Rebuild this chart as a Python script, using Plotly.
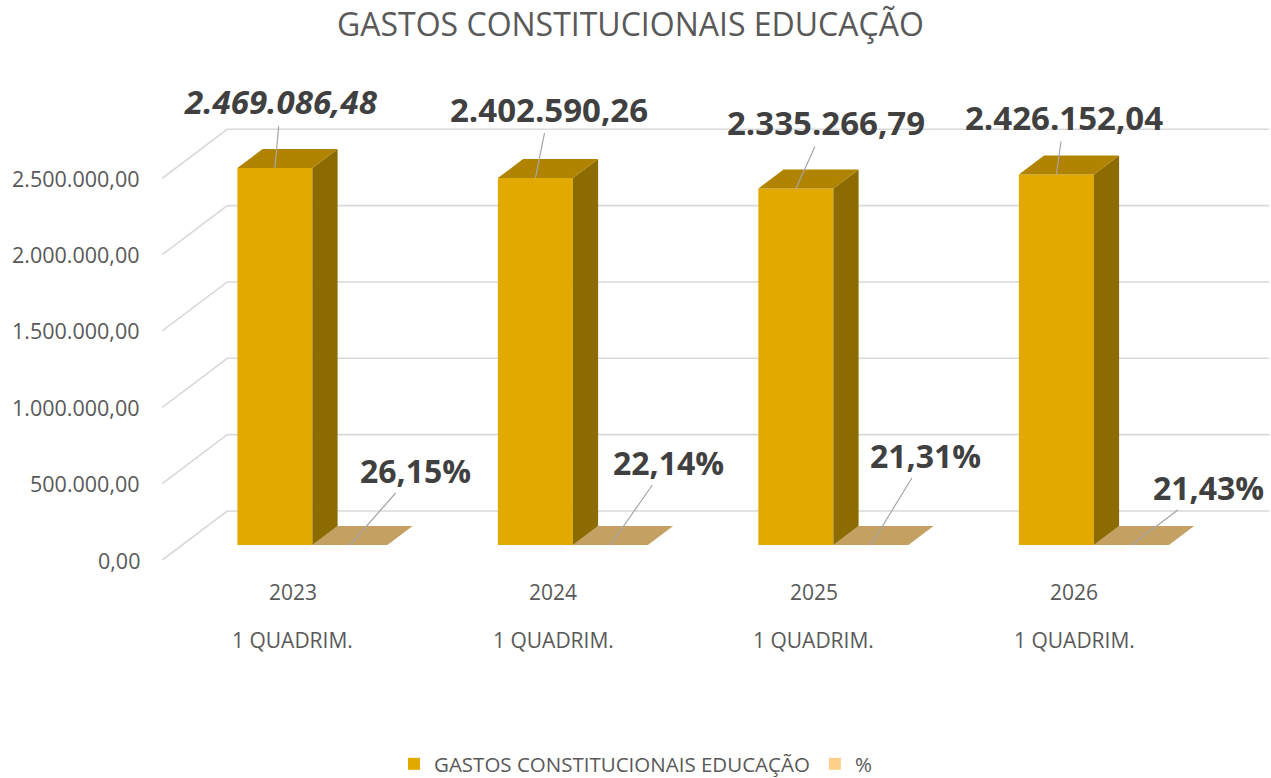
import plotly.graph_objects as go

# ---------------- data ----------------
years = ["2023", "2024", "2025", "2026"]
periods = ["1 QUADRIM.", "1 QUADRIM.", "1 QUADRIM.", "1 QUADRIM."]
gastos = [2469086.48, 2402590.26, 2335266.79, 2426152.04]
percent = [26.15, 22.14, 21.31, 21.43]
tick_values = [0, 500000, 1000000, 1500000, 2000000, 2500000]
series_names = ["GASTOS CONSTITUCIONAIS EDUCAÇÃO", "%"]
title_text = "GASTOS CONSTITUCIONAIS EDUCAÇÃO"

# ---------------- style ----------------
W, H = 1271, 778
PX_PER_CAT = 260.5          # px per category
PX_PER_UNIT = 152.7e-6      # px per currency unit
X0_PX, Y0_PX = 292.5, 560.0  # screen position of (category 0, value 0) at the front of the floor
WALL_DX, WALL_DY = 65.0, 49.0   # perspective depth offset of the whole wall (px)
DU = WALL_DX / PX_PER_CAT
DV = WALL_DY / PX_PER_UNIT
D_FRONT, D_BACK = 15 / 49, 34 / 49   # bar depth range (fraction of wall depth)
BAR_W = 0.288
WALL_L, WALL_R = -0.5, 3.5

C_FRONT = "#E2AA00"
C_SIDE = "#8C6B00"
C_TOP = "#B08400"
C_PCT_TOP = "#C4A062"
C_PCT_LEG = "#FFD08A"
C_GRID = "#D9D9D9"
C_LABEL = "#404040"
C_AXIS = "#595959"
FONT = "Open Sans"

x_range = [-X0_PX / PX_PER_CAT, (W - X0_PX) / PX_PER_CAT]
y_range = [-(H - Y0_PX) / PX_PER_UNIT, Y0_PX / PX_PER_UNIT]


def proj(u, d, v):
    return u + d * DU, v + d * DV


def fmt_br(v):
    s = f"{v:,.2f}"
    return s.replace(",", "X").replace(".", ",").replace("X", ".")


def add_poly(xs, ys, pts):
    for (u, d, v) in pts:
        px, py = proj(u, d, v)
        xs.append(px)
        ys.append(py)
    xs.append(None)
    ys.append(None)


fig = go.Figure()

# gridlines (left wall + back wall)
gx, gy = [], []
for t in tick_values:
    for (u, d) in [(WALL_L, 0), (WALL_L, 1), (WALL_R, 1)]:
        px, py = proj(u, d, t)
        gx.append(px)
        gy.append(py)
    gx.append(None)
    gy.append(None)
fig.add_trace(go.Scatter(x=gx, y=gy, mode="lines", line=dict(color=C_GRID, width=1.6),
                         hoverinfo="skip", showlegend=False))

# faces
faces = {"pct_top": ([], []), "front": ([], []), "side": ([], []), "top": ([], [])}
for i, (g, p) in enumerate(zip(gastos, percent)):
    # % series (flat bar, right slot)
    u0, u1 = i, i + BAR_W
    add_poly(*faces["pct_top"], [(u0, D_FRONT, p), (u1, D_FRONT, p), (u1, D_BACK, p), (u0, D_BACK, p)])
    # gastos series (left slot)
    u0, u1 = i - BAR_W, i
    add_poly(*faces["front"], [(u0, D_FRONT, 0), (u1, D_FRONT, 0), (u1, D_FRONT, g), (u0, D_FRONT, g)])
    add_poly(*faces["side"], [(u1, D_FRONT, 0), (u1, D_BACK, 0), (u1, D_BACK, g), (u1, D_FRONT, g)])
    add_poly(*faces["top"], [(u0, D_FRONT, g), (u1, D_FRONT, g), (u1, D_BACK, g), (u0, D_BACK, g)])

for key, col in [("pct_top", C_PCT_TOP), ("front", C_FRONT), ("side", C_SIDE), ("top", C_TOP)]:
    xs, ys = faces[key]
    fig.add_trace(go.Scatter(x=xs, y=ys, mode="lines", fill="toself", fillcolor=col,
                             line=dict(width=0, color=col), hoverinfo="skip", showlegend=False))

# legend entries
fig.add_trace(go.Scatter(x=[None], y=[None], mode="markers", name=series_names[0],
                         marker=dict(symbol="square", size=14, color=C_FRONT)))
fig.add_trace(go.Scatter(x=[None], y=[None], mode="markers", name=series_names[1],
                         marker=dict(symbol="square", size=14, color=C_PCT_LEG)))

ann = []
# y tick labels (front edge of left wall)
for t in tick_values:
    px, py = proj(WALL_L, 0, t)
    ann.append(dict(x=px, y=py, xref="x", yref="y", text=fmt_br(t), showarrow=False,
                    xanchor="right", yanchor="middle", xshift=-20,
                    font=dict(family=FONT, size=21.5, color=C_AXIS)))

# category labels
for i, (yr, pr) in enumerate(zip(years, periods)):
    px, py = proj(i, 0, 0)
    ann.append(dict(x=px, y=py, xref="x", yref="y", text=yr, showarrow=False,
                    yshift=-32, font=dict(family=FONT, size=21, color=C_AXIS)))
    ann.append(dict(x=px, y=py, xref="x", yref="y", text=pr, showarrow=False,
                    yshift=-80, font=dict(family=FONT, size=21, color=C_AXIS)))

# data labels with leader lines
g_off = [(6, -66), (14, -69), (30, -66), (8, -57)]
p_off = [(66, -75), (58, -83), (55, -90), (77, -58)]
for i, (g, p) in enumerate(zip(gastos, percent)):
    px, py = proj(i - BAR_W / 2, D_FRONT, g)
    txt = "<b>" + fmt_br(g) + "</b>"
    if i == 0:
        txt = "<i>" + txt + "</i>"
    ann.append(dict(x=px, y=py, xref="x", yref="y", text=txt, showarrow=True,
                    arrowhead=0, arrowwidth=1.2, arrowcolor="#A6A6A6", standoff=0,
                    ax=g_off[i][0], ay=g_off[i][1],
                    font=dict(family=FONT, size=33, color=C_LABEL)))
    px, py = proj(i + BAR_W / 2, D_FRONT, p)
    ann.append(dict(x=px, y=py, xref="x", yref="y", text="<b>" + fmt_br(p) + "%</b>", showarrow=True,
                    arrowhead=0, arrowwidth=1.2, arrowcolor="#A6A6A6", standoff=0,
                    ax=p_off[i][0], ay=p_off[i][1],
                    font=dict(family=FONT, size=32, color=C_LABEL)))

fig.update_layout(
    width=W, height=H,
    margin=dict(l=0, r=0, t=0, b=0, autoexpand=False),
    paper_bgcolor="white", plot_bgcolor="white",
    xaxis=dict(range=x_range, visible=False, fixedrange=True),
    yaxis=dict(range=y_range, visible=False, fixedrange=True),
    title=dict(text=title_text, x=0.496, xanchor="center", y=1 - 25 / H, yanchor="middle",
               font=dict(family=FONT, size=32, color=C_AXIS)),
    legend=dict(orientation="h", x=0.5, xanchor="center", y=1 - 764 / H, yanchor="middle",
                font=dict(family=FONT, size=20.5, color=C_AXIS), itemsizing="constant"),
    annotations=ann,
)

fig.write_html("out.html", config={"displayModeBar": False},
               post_script="document.body.style.margin='0';")
